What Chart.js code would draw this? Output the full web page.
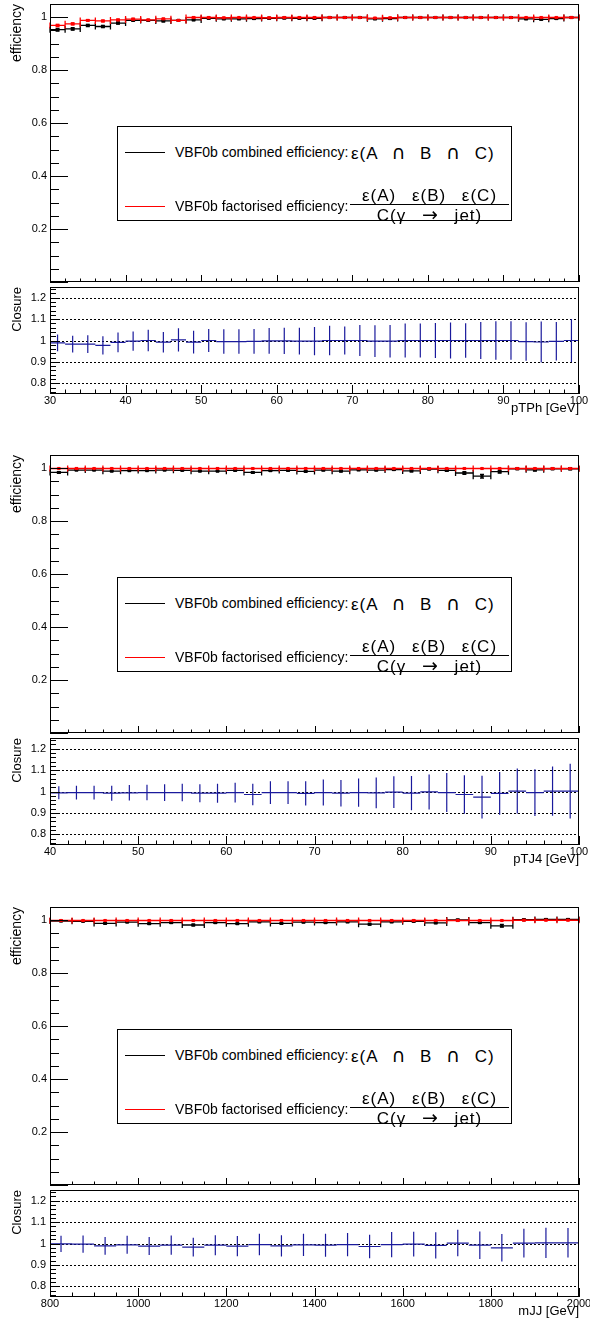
<!DOCTYPE html>
<html>
<head>
<meta charset="utf-8">
<script src="https://cdn.jsdelivr.net/npm/chart.js@4.4.0/dist/chart.umd.min.js"></script>
<style>
  body { margin: 0; background: #fff; }
  #page { position: relative; width: 590px; height: 1326px; overflow: hidden; background: #fff;
          font-family: 'Liberation Sans', Arial, Helvetica, sans-serif; }
  canvas { position: absolute; left: 0; }
  .legend { position: absolute; left: 117px; width: 393px; height: 93px; border: 1px solid #000;
            background: #fff; font-size: 14px; color: #000; }
  .legend .line { position: absolute; left: 7px; width: 40px; height: 1px; }
  .legend .txt { position: absolute; left: 57px; line-height: 16px; white-space: nowrap; }
  .legend .math { position: absolute; left: 233px; line-height: 16px; font-size: 17px; white-space: nowrap;
                  letter-spacing: 1px; word-spacing: 8px; }
  .legend .sym { font-family: 'DejaVu Sans', sans-serif; font-size: 19px; }
  .legend .frac { position: absolute; left: 232px; top: 60px; width: 159px; text-align: center;
                  font-size: 17px; line-height: 17px; white-space: nowrap; letter-spacing: 1px; word-spacing: 10px; }
  .legend .den { border-top: 1px solid #000; padding-top: 1px; }
</style>
</head>
<body>
<div id="page"></div>
<script>
// ---- pTPh ----
const ptphBins = [31, 33, 35, 37, 39, 41, 43, 45, 47, 49, 51, 53, 55, 57, 59, 61, 63, 65, 67, 69,
                  71, 73, 75, 77, 79, 81, 83, 85, 87, 89, 91, 93, 95, 97, 99];
const ptphComb = [0.953, 0.956, 0.969, 0.965, 0.978, 0.988, 0.988, 0.986, 0.988, 0.990, 0.996, 0.994,
                  0.994, 0.995, 0.996, 0.997, 0.996, 0.996, 0.999, 0.999, 0.999, 0.994, 0.995, 0.999,
                  0.999, 0.999, 0.999, 0.999, 0.999, 0.999, 0.999, 0.994, 0.992, 0.995, 0.999];
const ptphCombErr = [0.005, 0.005, 0.004, 0.004, 0.004, 0.003, 0.003, 0.003, 0.003, 0.003, 0.003, 0.003,
                     0.003, 0.003, 0.003, 0.003, 0.003, 0.003, 0.003, 0.003, 0.003, 0.003, 0.003, 0.003,
                     0.003, 0.003, 0.003, 0.003, 0.003, 0.003, 0.003, 0.003, 0.003, 0.003, 0.003];
const ptphFact = [0.969, 0.975, 0.988, 0.986, 0.990, 0.993, 0.990, 0.994, 0.988, 0.999, 0.999, 0.998,
                  0.999, 0.999, 0.998, 0.999, 0.999, 0.999, 0.999, 0.999, 0.999, 0.997, 0.998, 0.999,
                  0.999, 0.999, 0.999, 0.999, 0.999, 0.999, 0.999, 0.999, 0.999, 0.999, 0.999];
const ptphFactErr = [0.004, 0.004, 0.003, 0.003, 0.003, 0.003, 0.002, 0.002, 0.002, 0.002, 0.001, 0.001,
                     0.001, 0.001, 0.001, 0.001, 0.001, 0.001, 0.001, 0.001, 0.001, 0.001, 0.001, 0.001,
                     0.001, 0.001, 0.001, 0.001, 0.001, 0.001, 0.001, 0.001, 0.001, 0.001, 0.001];
const ptphClosure = [0.989, 0.983, 0.983, 0.977, 0.991, 0.997, 1.000, 0.992, 1.003, 0.992, 1.000, 0.995,
                     0.995, 0.996, 0.998, 0.998, 0.997, 0.997, 1.000, 1.000, 1.000, 0.997, 0.997, 1.000,
                     1.000, 1.000, 1.000, 1.000, 1.000, 1.000, 1.000, 0.995, 0.993, 0.996, 1.000];
const ptphClosureErr = [0.039, 0.039, 0.041, 0.043, 0.046, 0.045, 0.050, 0.048, 0.054, 0.053, 0.054, 0.057,
                        0.057, 0.058, 0.060, 0.061, 0.063, 0.066, 0.069, 0.066, 0.073, 0.074, 0.076, 0.080,
                        0.080, 0.082, 0.084, 0.081, 0.087, 0.090, 0.090, 0.090, 0.096, 0.090, 0.100];
const ptphTicks = [30, 40, 50, 60, 70, 80, 90, 100];

// ---- pTJ4 ----
const tj4Bins = [41, 43, 45, 47, 49, 51, 53, 55, 57, 59, 61, 63, 65, 67, 69, 71, 73, 75, 77, 79,
                 81, 83, 85, 87, 89, 91, 93, 95, 97, 99];
const tj4Comb = [0.984, 0.993, 0.993, 0.989, 0.991, 0.991, 0.993, 0.992, 0.989, 0.989, 0.992, 0.984,
                 0.991, 0.992, 0.988, 0.993, 0.989, 0.994, 0.993, 0.995, 0.990, 0.997, 0.992, 0.982,
                 0.970, 0.987, 0.998, 0.994, 0.998, 0.998];
const tj4CombErr = [0.003, 0.002, 0.002, 0.002, 0.002, 0.002, 0.002, 0.002, 0.002, 0.002, 0.003, 0.003,
                    0.003, 0.003, 0.003, 0.003, 0.003, 0.003, 0.003, 0.003, 0.004, 0.003, 0.004, 0.005,
                    0.007, 0.005, 0.003, 0.005, 0.003, 0.004];
const tj4Fact = [0.999, 0.999, 0.999, 0.999, 0.999, 0.999, 0.999, 0.999, 0.999, 0.999, 0.999, 0.999,
                 0.999, 0.999, 0.999, 0.999, 0.999, 0.999, 0.999, 0.999, 0.999, 0.999, 0.999, 0.999,
                 0.999, 0.999, 0.999, 0.999, 0.999, 0.999];
const tj4FactErr = [0.001, 0.001, 0.001, 0.001, 0.001, 0.001, 0.001, 0.001, 0.001, 0.001, 0.001, 0.001,
                    0.001, 0.001, 0.001, 0.001, 0.001, 0.001, 0.001, 0.001, 0.001, 0.001, 0.001, 0.001,
                    0.001, 0.001, 0.001, 0.001, 0.001, 0.001];
const tj4Closure = [0.994, 0.995, 0.995, 0.992, 0.994, 0.995, 0.995, 0.995, 0.992, 0.992, 0.995, 0.986,
                    0.995, 0.995, 0.991, 0.995, 0.992, 0.995, 0.994, 0.997, 0.992, 0.998, 0.995, 0.986,
                    0.974, 0.991, 1.002, 0.995, 1.002, 1.002];
const tj4ClosureErr = [0.030, 0.032, 0.032, 0.035, 0.036, 0.036, 0.039, 0.041, 0.042, 0.044, 0.046, 0.050,
                       0.053, 0.053, 0.057, 0.061, 0.062, 0.066, 0.072, 0.074, 0.080, 0.082, 0.091, 0.090,
                       0.100, 0.100, 0.105, 0.109, 0.115, 0.128];
const tj4Ticks = [40, 50, 60, 70, 80, 90, 100];

// ---- mJJ ----
const mjjBins = [825, 875, 925, 975, 1025, 1075, 1125, 1175, 1225, 1275, 1325, 1375,
                 1425, 1475, 1525, 1575, 1625, 1675, 1725, 1775, 1825, 1875, 1925, 1975];
const mjjComb = [0.997, 0.996, 0.988, 0.993, 0.987, 0.991, 0.982, 0.991, 0.987, 0.994, 0.988, 0.993,
                 0.991, 0.994, 0.985, 0.994, 0.996, 0.990, 1.001, 0.991, 0.979, 1.002, 1.003, 1.003];
const mjjCombErr = [0.002, 0.002, 0.003, 0.002, 0.003, 0.003, 0.003, 0.003, 0.003, 0.003, 0.003, 0.003,
                    0.003, 0.003, 0.003, 0.003, 0.003, 0.003, 0.003, 0.003, 0.005, 0.003, 0.003, 0.003];
const mjjFact = [0.999, 0.999, 0.999, 0.999, 0.999, 0.999, 0.999, 0.999, 0.999, 0.999, 0.999, 0.999,
                 0.999, 0.999, 0.999, 0.999, 0.999, 0.999, 0.999, 0.999, 0.999, 1.000, 1.000, 1.000];
const mjjFactErr = [0.001, 0.001, 0.001, 0.001, 0.001, 0.001, 0.001, 0.001, 0.001, 0.001, 0.001, 0.001,
                    0.001, 0.001, 0.001, 0.001, 0.001, 0.001, 0.001, 0.001, 0.001, 0.001, 0.001, 0.001];
const mjjClosure = [0.998, 0.997, 0.989, 0.994, 0.988, 0.992, 0.983, 0.992, 0.988, 0.995, 0.989, 0.994,
                    0.992, 0.995, 0.986, 0.995, 0.997, 0.991, 1.002, 0.992, 0.980, 1.002, 1.003, 1.003];
const mjjClosureErr = [0.038, 0.040, 0.041, 0.042, 0.042, 0.045, 0.044, 0.047, 0.047, 0.050, 0.050, 0.052,
                       0.054, 0.054, 0.055, 0.059, 0.058, 0.061, 0.062, 0.064, 0.064, 0.067, 0.071, 0.069];
const mjjTicks = [800, 1000, 1200, 1400, 1600, 1800, 2000];

const effTicks = [0, 0.2, 0.4, 0.6, 0.8, 1];
const closureTicks = [0.8, 0.9, 1, 1.1, 1.2];

const panels = [
  { top: 0,   bins: ptphBins, half: 1,  minor: 2,  comb: ptphComb, combErr: ptphCombErr, fact: ptphFact, factErr: ptphFactErr,
    clo: ptphClosure, cloErr: ptphClosureErr, ticks: ptphTicks, title: 'pTPh [GeV]' },
  { top: 451, bins: tj4Bins,  half: 1,  minor: 2,  comb: tj4Comb,  combErr: tj4CombErr,  fact: tj4Fact,  factErr: tj4FactErr,
    clo: tj4Closure,  cloErr: tj4ClosureErr,  ticks: tj4Ticks,  title: 'pTJ4 [GeV]' },
  { top: 903, bins: mjjBins,  half: 25, minor: 50, comb: mjjComb,  combErr: mjjCombErr,  fact: mjjFact,  factErr: mjjFactErr,
    clo: mjjClosure,  cloErr: mjjClosureErr,  ticks: mjjTicks,  title: 'mJJ [GeV]' }
];

const FONT = "'Liberation Sans', Arial, Helvetica, sans-serif";
const fmt = v => String(Math.round(v * 100) / 100);
const isMajor = (list, v, step) => list.some(m => Math.abs(m - v) < step * 1e-3);

// ROOT-like frame, inward ticks, dotted reference lines and error bars
const rootAxes = {
  id: 'rootAxes',
  beforeDatasetsDraw(chart, args, o) {
    if (!o.dotted) return;
    const {ctx, chartArea: a, scales: {y}} = chart;
    ctx.save();
    ctx.strokeStyle = '#000';
    ctx.lineWidth = 1;
    ctx.setLineDash([2, 2]);
    o.dotted.forEach(v => {
      const py = Math.round(y.getPixelForValue(v)) + 0.5;
      ctx.beginPath();
      ctx.moveTo(a.left, py);
      ctx.lineTo(a.right, py);
      ctx.stroke();
    });
    ctx.restore();
  },
  beforeDatasetDraw(chart, args) {
    const ds = chart.data.datasets[args.index];
    if (!ds.err) return;
    const {ctx, scales: {x, y}} = chart;
    ctx.save();
    ctx.strokeStyle = ds.barColor;
    ctx.lineWidth = ds.barWidth;
    ctx.beginPath();
    ds.data.forEach((p, i) => {
      const cx = x.getPixelForValue(p.x);
      const x0 = x.getPixelForValue(p.x - ds.half);
      const x1 = x.getPixelForValue(p.x + ds.half);
      const cy = y.getPixelForValue(p.y);
      const y0 = y.getPixelForValue(p.y - ds.err[i]);
      const y1 = y.getPixelForValue(p.y + ds.err[i]);
      ctx.moveTo(x0, cy); ctx.lineTo(x1, cy);
      ctx.moveTo(cx, y0); ctx.lineTo(cx, y1);
      if (ds.caps) {
        ctx.moveTo(x0, cy - 3); ctx.lineTo(x0, cy + 3);
        ctx.moveTo(x1, cy - 3); ctx.lineTo(x1, cy + 3);
        ctx.moveTo(cx - 2, y0); ctx.lineTo(cx + 2, y0);
        ctx.moveTo(cx - 2, y1); ctx.lineTo(cx + 2, y1);
      }
    });
    ctx.stroke();
    ctx.restore();
  },
  afterDraw(chart, args, o) {
    const {ctx, chartArea: a, scales: {x, y}} = chart;
    ctx.save();
    ctx.strokeStyle = '#000';
    ctx.lineWidth = 1;
    ctx.beginPath();
    let start = o.xMajor[0] - Math.floor((o.xMajor[0] - x.min) / o.xStep + 1e-6) * o.xStep;
    for (let k = 0; start + k * o.xStep <= x.max + 1e-6; k++) {
      const v = start + k * o.xStep;
      const px = Math.round(x.getPixelForValue(v)) + 0.5;
      const len = isMajor(o.xMajor, v, o.xStep) ? o.xLen[0] : o.xLen[1];
      ctx.moveTo(px, a.bottom);
      ctx.lineTo(px, a.bottom - len);
    }
    start = o.yMajor[0] - Math.floor((o.yMajor[0] - y.min) / o.yStep + 1e-6) * o.yStep;
    for (let k = 0; start + k * o.yStep <= y.max - 1e-6; k++) {
      const v = start + k * o.yStep;
      const py = Math.round(y.getPixelForValue(v)) + 0.5;
      const len = isMajor(o.yMajor, v, o.yStep) ? o.yLen[0] : o.yLen[1];
      ctx.moveTo(a.left, py);
      ctx.lineTo(a.left + len, py);
    }
    ctx.stroke();
    ctx.strokeRect(Math.round(a.left) + 0.5, Math.round(a.top) + 0.5,
                   Math.round(a.right - a.left) - 1, Math.round(a.bottom - a.top) - 1);
    ctx.restore();
  }
};

const page = document.getElementById('page');

function addCanvas(top, h) {
  const c = document.createElement('canvas');
  c.width = 590;
  c.height = h;
  c.style.top = top + 'px';
  c.style.width = '590px';
  c.style.height = h + 'px';
  page.appendChild(c);
  return c;
}

function yScale(min, max, ticks, title, size, pad, labelPad) {
  return {
    min: min, max: max,
    grid: { display: false, drawTicks: false },
    border: { display: false },
    ticks: { font: { family: FONT, size: 11 }, color: '#000', padding: labelPad,
             callback: v => (v === 0 ? '' : fmt(v)) },
    afterBuildTicks: s => { s.ticks = ticks.map(v => ({ value: v })); },
    afterFit: s => { s.width = 50; s.paddingTop = 0; s.paddingBottom = 0; },
    title: { display: true, text: title, align: 'end', color: '#000',
             font: { family: FONT, size: size }, padding: { top: pad, bottom: 0 } }
  };
}

panels.forEach(p => {
  const xMin = p.ticks[0], xMax = p.ticks[p.ticks.length - 1];

  // efficiency pad
  new Chart(addCanvas(p.top, 286), {
    type: 'scatter',
    data: {
      datasets: [
        { label: 'factorised', data: p.bins.map((x, i) => ({ x: x, y: p.fact[i] })),
          err: p.factErr, half: p.half, caps: true, barColor: '#ff0000', barWidth: 1.3,
          pointStyle: 'rect', pointRadius: 2.2, backgroundColor: '#ff0000', borderWidth: 0, order: 0 },
        { label: 'combined', data: p.bins.map((x, i) => ({ x: x, y: p.comb[i] })),
          err: p.combErr, half: p.half, caps: true, barColor: '#000000', barWidth: 1.3,
          pointStyle: 'rect', pointRadius: 2.2, backgroundColor: '#000000', borderWidth: 0, order: 1 }
      ]
    },
    options: {
      responsive: false, animation: false, events: [],
      layout: { padding: { top: 2, right: 11, bottom: 1, left: 0 } },
      plugins: {
        legend: { display: false }, tooltip: { enabled: false },
        rootAxes: { xMajor: p.ticks, xStep: p.minor, xLen: [7, 3.5], yMajor: effTicks, yStep: 0.05, yLen: [18, 9] }
      },
      scales: {
        x: { type: 'linear', display: false, min: xMin, max: xMax },
        y: yScale(0, 1.05, effTicks, 'efficiency', 14, 9, 3)
      }
    },
    plugins: [rootAxes]
  });

  // closure pad
  new Chart(addCanvas(p.top + 286, 165), {
    type: 'scatter',
    data: {
      datasets: [
        { label: 'closure', data: p.bins.map((x, i) => ({ x: x, y: p.clo[i] })),
          err: p.cloErr, half: p.half, caps: false, barColor: '#1a1a9c', barWidth: 1.2,
          pointRadius: 0 }
      ]
    },
    options: {
      responsive: false, animation: false, events: [],
      layout: { padding: { top: 1, right: 11, bottom: 0, left: 0 } },
      plugins: {
        legend: { display: false }, tooltip: { enabled: false },
        rootAxes: { xMajor: p.ticks, xStep: p.minor, xLen: [9, 4.5], yMajor: closureTicks, yStep: 0.02, yLen: [10, 6],
                    dotted: closureTicks }
      },
      scales: {
        x: {
          type: 'linear', min: xMin, max: xMax,
          grid: { display: false, drawTicks: false },
          border: { display: false },
          ticks: { font: { family: FONT, size: 11 }, color: '#000', padding: 0, maxRotation: 0, autoSkip: false,
                   callback: v => String(v) },
          afterBuildTicks: s => { s.ticks = p.ticks.map(v => ({ value: v })); },
          afterFit: s => { s.height = 57; s.paddingLeft = 0; s.paddingRight = 0; },
          title: { display: true, text: p.title, align: 'end', color: '#000',
                   font: { family: FONT, size: 13 }, padding: { top: 0, bottom: 35 } }
        },
        y: yScale(0.75, 1.25, closureTicks, 'Closure', 13, 10, 4)
      }
    },
    plugins: [rootAxes]
  });

  // legend box
  const leg = document.createElement('div');
  leg.className = 'legend';
  leg.style.top = (p.top + 126) + 'px';
  leg.innerHTML =
    '<div class="line" style="top:25px;background:#000"></div>' +
    '<div class="txt" style="top:17px">VBF0b combined efficiency:</div>' +
    '<div class="math" style="top:17px">ε(A <span class="sym">∩</span> B <span class="sym">∩</span> C)</div>' +
    '<div class="line" style="top:79px;background:#ff0000"></div>' +
    '<div class="txt" style="top:71px">VBF0b factorised efficiency:</div>' +
    '<div class="frac"><div>ε(A) ε(B) ε(C)</div><div class="den">C(γ <span class="sym">→</span> jet)</div></div>';
  page.appendChild(leg);
});
</script>
</body>
</html>
